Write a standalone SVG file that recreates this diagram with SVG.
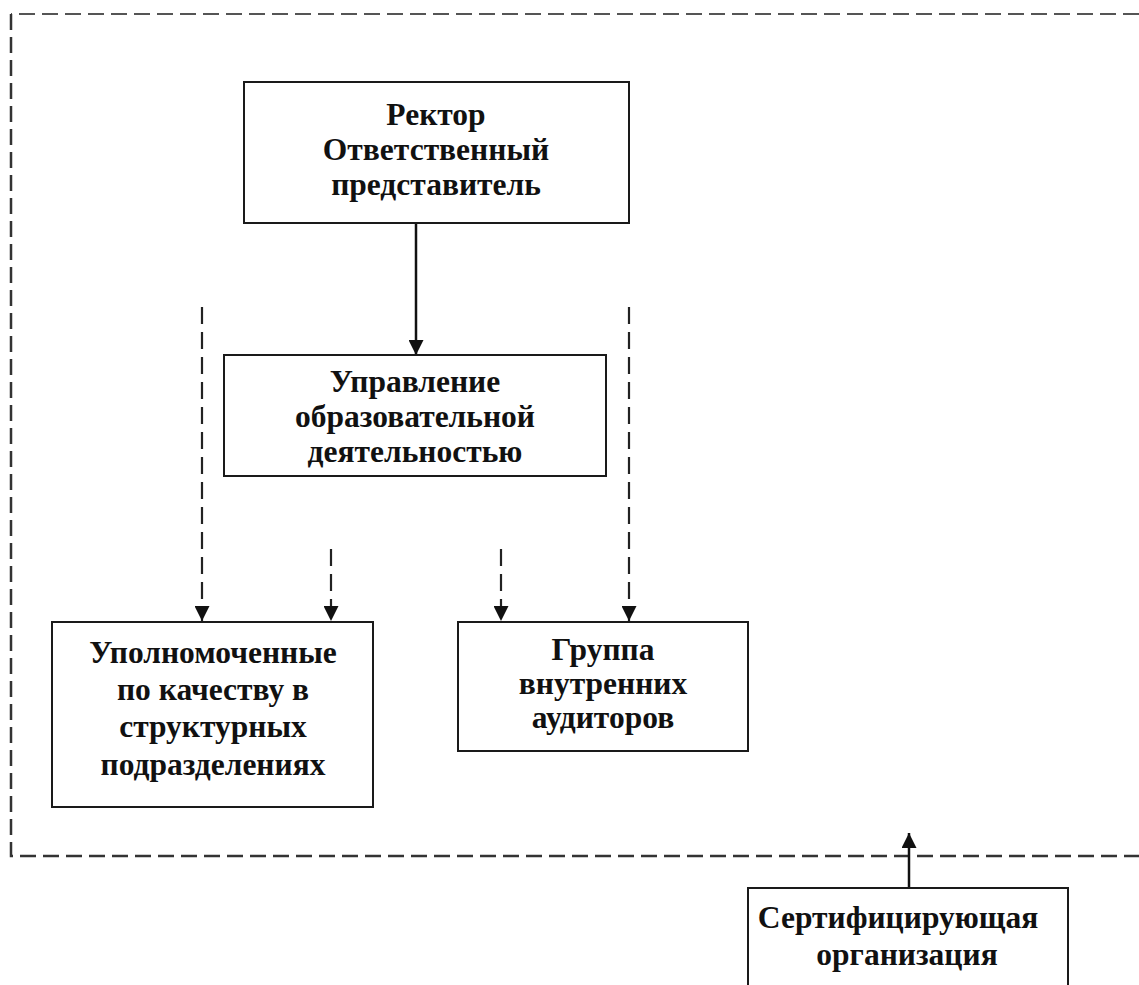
<svg xmlns="http://www.w3.org/2000/svg" width="1139" height="985" viewBox="0 0 1139 985">
<style>
.box{fill:#fff;stroke:#1a1a1a;stroke-width:2}
.t{font-family:"Liberation Serif","Times New Roman",serif;font-weight:bold;font-size:31.5px;fill:#111;text-anchor:middle}
.solid{stroke:#111;stroke-width:2.5;fill:none}
.dash{stroke:#222;stroke-width:2.2;fill:none;stroke-dasharray:17 8}
.frame{stroke:#333;stroke-width:2.5;fill:none;stroke-dasharray:16 7}
.frametop{stroke:#555;stroke-width:2;fill:none;stroke-dasharray:16 7}
</style>
<defs>
<marker id="ah" viewBox="0 0 15 15" refX="15" refY="7.5" markerWidth="15" markerHeight="15" markerUnits="userSpaceOnUse" orient="auto">
<path d="M0,0 L15,7.5 L0,15 Z" fill="#111"/>
</marker>
</defs>
<g id="frame">
<path class="frametop" d="M1139,14 L11,14"/>
<path class="frame" d="M11,14 L11,856 L1139,856"/>
</g>
<g id="connectors">
<line class="solid" x1="416" y1="223" x2="416" y2="355" marker-end="url(#ah)"/>
<line class="dash" x1="202" y1="307" x2="202" y2="621" marker-end="url(#ah)"/>
<line class="dash" x1="331" y1="549" x2="331" y2="621" marker-end="url(#ah)"/>
<line class="dash" x1="501" y1="549" x2="501" y2="621" marker-end="url(#ah)"/>
<line class="dash" x1="629" y1="307" x2="629" y2="621" marker-end="url(#ah)"/>
<line class="solid" x1="909" y1="888" x2="909" y2="833" marker-end="url(#ah)"/>
</g>
<g id="rector">
<rect class="box" x="244" y="82" width="385" height="141"/>
<text class="t" x="436" y="125">Ректор</text>
<text class="t" x="436" y="160">Ответственный</text>
<text class="t" x="436" y="195">представитель</text>
</g>
<g id="upravlenie">
<rect class="box" x="224" y="355" width="382" height="121"/>
<text class="t" x="415" y="392">Управление</text>
<text class="t" x="415" y="427">образовательной</text>
<text class="t" x="415" y="462">деятельностью</text>
</g>
<g id="upolnomochennye">
<rect class="box" x="52" y="622" width="321" height="185"/>
<text class="t" x="213" y="663">Уполномоченные</text>
<text class="t" x="213" y="700">по качеству в</text>
<text class="t" x="213" y="737">структурных</text>
<text class="t" x="213" y="775">подразделениях</text>
</g>
<g id="gruppa">
<rect class="box" x="458" y="622" width="290" height="129"/>
<text class="t" x="603" y="660">Группа</text>
<text class="t" x="603" y="694">внутренних</text>
<text class="t" x="603" y="728">аудиторов</text>
</g>
<g id="sertif">
<rect class="box" x="748" y="888" width="320" height="110"/>
<text class="t" x="898" y="928">Сертифицирующая</text>
<text class="t" x="907" y="965">организация</text>
</g>
</svg>
